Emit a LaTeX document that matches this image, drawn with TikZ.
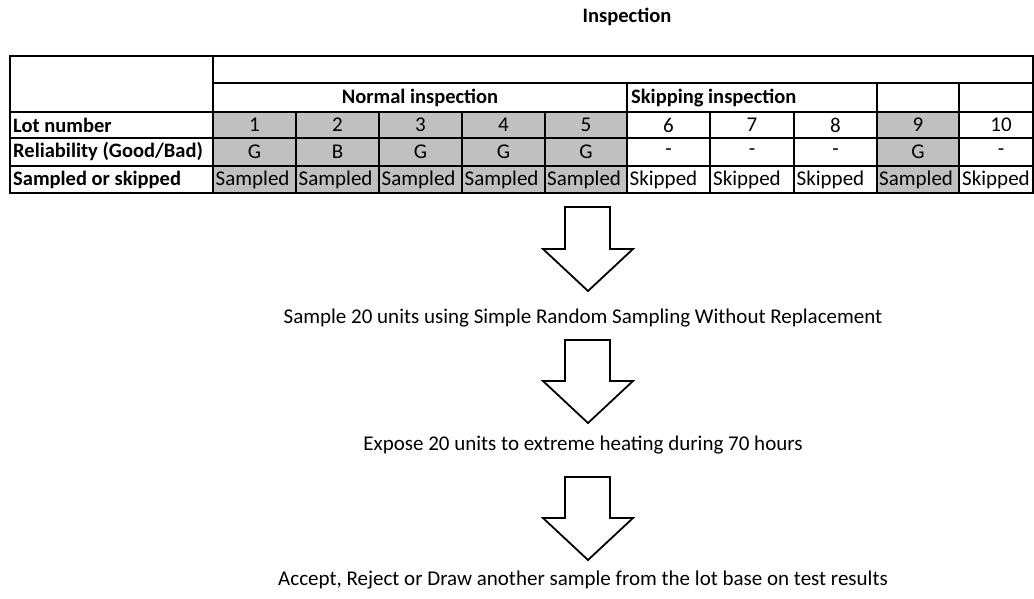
\documentclass[tikz,border=0pt]{standalone}
\usepackage{fontspec}
\setmainfont{Carlito}
\definecolor{cellgray}{RGB}{192,192,192}
\begin{document}
\begin{tikzpicture}[x=1pt,y=-1pt,
  gridline/.style={line width=1.2pt,black},
  frameline/.style={line width=1.8pt,black},
  celltext/.style={inner sep=0pt,font=\fontsize{21}{21}\selectfont},
  headtext/.style={inner sep=0pt,font=\bfseries\fontsize{20.5}{20.5}\selectfont},
  steptext/.style={inner sep=0pt,font=\fontsize{21}{21}\selectfont},
  blockarrow/.style={draw=black,fill=white,line width=1.8pt,line join=miter}
]
\useasboundingbox (0,0) rectangle (1034,599);
\clip (0,0) rectangle (1034,599);

% title
\node[headtext] (title) at (627,17) {Inspection};

% shaded cells of the sampled lots
\fill[cellgray] (213,112) rectangle (627,193);
\fill[cellgray] (877,112) rectangle (959,193);

% table rules
\draw[gridline] (213,83) -- (1034,83);
\foreach \yy in {112,138,166} \draw[gridline] (10,\yy) -- (1034,\yy);
\draw[gridline] (213,56) -- (213,193);
\foreach \xx in {627,877,959} \draw[gridline] (\xx,83) -- (\xx,112);
\foreach \xx in {296,379,462,545,627,710,794,877,959} \draw[gridline] (\xx,112) -- (\xx,193);
\draw[frameline] (10,56) rectangle (1033,193);

% group headings
\node[headtext] (normal) at (420,98) {Normal inspection};
\node[headtext,anchor=west] (skipping) at (631,98) {Skipping inspection};

% row labels
\node[headtext,anchor=west] (lotlabel) at (13,125) {Lot number};
\node[headtext,anchor=west] (rellabel) at (13,152) {Reliability (Good/Bad)};
\node[headtext,anchor=west] (samlabel) at (13,180) {Sampled or skipped};

% lot columns: centre, number, reliability, status
\foreach \cx/\num/\rel/\stat [count=\i] in
  {254.5/1/G/Sampled, 337.5/2/B/Sampled, 420.5/3/G/Sampled, 503.5/4/G/Sampled,
   586/5/G/Sampled, 668.5/6/-/Skipped, 752/7/-/Skipped, 835.5/8/-/Skipped,
   918/9/G/Sampled, 1001/10/-/Skipped}{
  \node[celltext] (lot\i) at (\cx,125) {\num};
  \node[celltext] (rel\i) at (\cx,152) {\rel};
  \node[celltext,anchor=west] (stat\i) at (\cx-39,180) {\stat};
}

% process steps
\draw[blockarrow] (565,207) -- (610,207) -- (610,249) -- (633,249) -- (588,291) -- (543,249) -- (565,249) -- cycle;
\node[steptext] (step1) at (583,318) {Sample 20 units using Simple Random Sampling Without Replacement};
\draw[blockarrow] (565,340) -- (610,340) -- (610,381) -- (633,381) -- (588,423) -- (543,381) -- (565,381) -- cycle;
\node[steptext] (step2) at (583,445) {Expose 20 units to extreme heating during 70 hours};
\draw[blockarrow] (565,477) -- (610,477) -- (610,518) -- (633,518) -- (588,560) -- (543,518) -- (565,518) -- cycle;
\node[steptext] (step3) at (583,580) {Accept, Reject or Draw another sample from the lot base on test results};
\end{tikzpicture}
\end{document}
